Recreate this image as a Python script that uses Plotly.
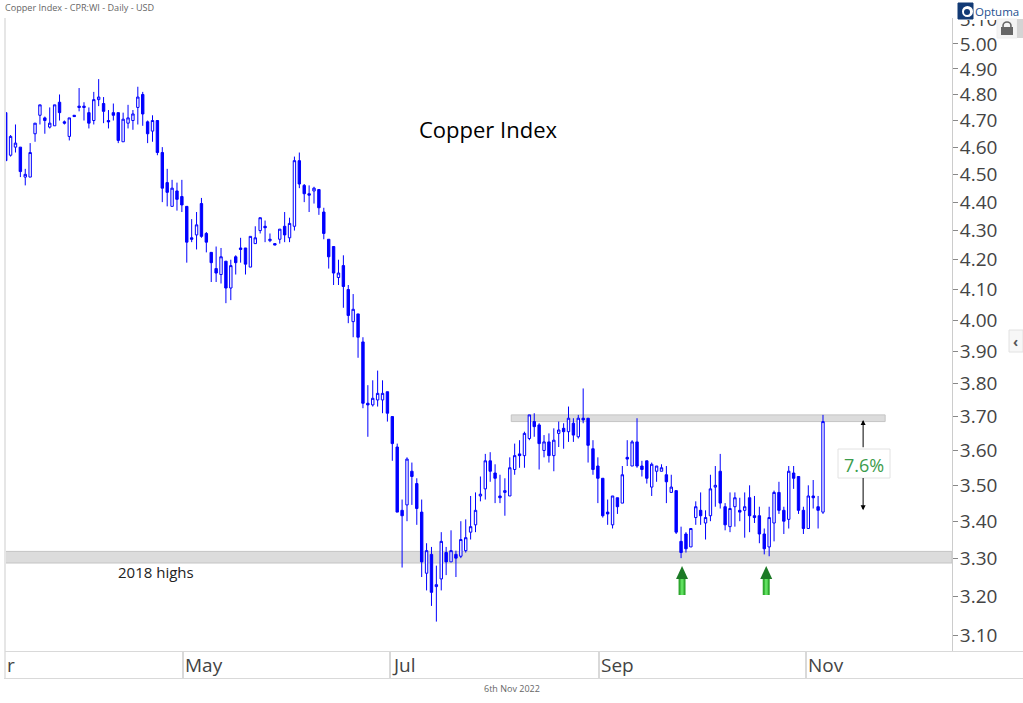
"""Copper Index daily candles, log price scale, Optuma-style chart."""

import math

import plotly.graph_objects as go

W, H = 1023, 703
PLOT_L, PLOT_R, PLOT_T, PLOT_B = 5, 952, 18, 651

BLUE = "#0000ff"
INK = "#444444"
EDGE = "#d9d9d9"
ZONE = "#dcdcdc"
ZONE_EDGE = "#c4c4c4"
GREEN = "#3c9c4c"

OPENS = [
    4.73, 4.57, 4.60, 4.60, 4.49, 4.49, 4.65, 4.72, 4.71, 4.675,
    4.68, 4.77, 4.695, 4.64, 4.72, 4.755, 4.755, 4.73, 4.70, 4.78,
    4.765, 4.70, 4.73, 4.73, 4.62, 4.69, 4.70, 4.75, 4.80, 4.695,
    4.66, 4.70, 4.58, 4.47, 4.385, 4.44, 4.42, 4.385, 4.275, 4.285,
    4.395, 4.29, 4.225, 4.17, 4.15, 4.195, 4.105, 4.21, 4.24, 4.24,
    4.175, 4.255, 4.30, 4.315, 4.265, 4.255, 4.27, 4.315, 4.275, 4.315,
    4.55, 4.46, 4.43, 4.44, 4.445, 4.365, 4.27, 4.245, 4.14, 4.18,
    4.10, 3.995, 4.02, 3.93, 3.74, 3.735, 3.75, 3.75, 3.775, 3.70,
    3.61, 3.43, 3.445, 3.54, 3.505, 3.425, 3.26, 3.31, 3.225, 3.245,
    3.315, 3.29, 3.31, 3.305, 3.32, 3.37, 3.39, 3.47, 3.49, 3.57,
    3.535, 3.47, 3.48, 3.47, 3.545, 3.59, 3.585, 3.635, 3.685, 3.675,
    3.60, 3.625, 3.585, 3.65, 3.665, 3.655, 3.68, 3.64, 3.695, 3.695,
    3.605, 3.555, 3.52, 3.425, 3.39, 3.465, 3.45, 3.58, 3.555, 3.625,
    3.555, 3.57, 3.495, 3.54, 3.54, 3.53, 3.48, 3.485, 3.345, 3.365,
    3.33, 3.41, 3.43, 3.395, 3.415, 3.495, 3.54, 3.44, 3.385, 3.44,
    3.43, 3.43, 3.465, 3.415, 3.415, 3.365, 3.33, 3.395, 3.48, 3.43,
    3.405, 3.535, 3.525, 3.43, 3.38, 3.47, 3.44, 3.425,
]
HIGHS = [
    4.73, 4.645, 4.685, 4.60, 4.52, 4.615, 4.69, 4.76, 4.715, 4.75,
    4.76, 4.80, 4.70, 4.71, 4.72, 4.825, 4.77, 4.75, 4.81, 4.86,
    4.79, 4.74, 4.765, 4.73, 4.73, 4.76, 4.74, 4.83, 4.81, 4.70,
    4.72, 4.70, 4.60, 4.52, 4.48, 4.47, 4.48, 4.385, 4.34, 4.365,
    4.415, 4.295, 4.225, 4.245, 4.24, 4.195, 4.20, 4.215, 4.275, 4.24,
    4.28, 4.315, 4.345, 4.335, 4.29, 4.255, 4.305, 4.365, 4.345, 4.565,
    4.58, 4.465, 4.46, 4.455, 4.445, 4.38, 4.27, 4.245, 4.20, 4.215,
    4.115, 4.085, 4.02, 3.945, 3.795, 3.81, 3.84, 3.81, 3.775, 3.70,
    3.62, 3.46, 3.58, 3.565, 3.52, 3.46, 3.34, 3.33, 3.28, 3.37,
    3.33, 3.375, 3.32, 3.40, 3.405, 3.47, 3.48, 3.525, 3.59, 3.595,
    3.56, 3.53, 3.52, 3.58, 3.62, 3.63, 3.655, 3.705, 3.71, 3.68,
    3.645, 3.65, 3.665, 3.685, 3.68, 3.73, 3.695, 3.705, 3.785, 3.695,
    3.63, 3.58, 3.52, 3.46, 3.47, 3.465, 3.555, 3.63, 3.63, 3.695,
    3.57, 3.57, 3.565, 3.555, 3.56, 3.555, 3.53, 3.485, 3.385, 3.37,
    3.38, 3.455, 3.48, 3.43, 3.53, 3.555, 3.59, 3.45, 3.48, 3.48,
    3.465, 3.48, 3.50, 3.47, 3.44, 3.38, 3.44, 3.485, 3.51, 3.44,
    3.555, 3.555, 3.525, 3.44, 3.50, 3.515, 3.47, 3.705,
]
LOWS = [
    4.55, 4.565, 4.58, 4.49, 4.46, 4.49, 4.62, 4.685, 4.65, 4.67,
    4.68, 4.70, 4.685, 4.625, 4.715, 4.735, 4.70, 4.67, 4.685, 4.755,
    4.69, 4.67, 4.70, 4.615, 4.62, 4.67, 4.665, 4.685, 4.68, 4.615,
    4.62, 4.57, 4.40, 4.385, 4.385, 4.37, 4.365, 4.19, 4.26, 4.235,
    4.275, 4.225, 4.125, 4.125, 4.12, 4.055, 4.065, 4.15, 4.19, 4.15,
    4.175, 4.255, 4.29, 4.26, 4.26, 4.25, 4.255, 4.26, 4.26, 4.30,
    4.45, 4.40, 4.365, 4.395, 4.355, 4.27, 4.17, 4.115, 4.115, 4.04,
    3.99, 3.945, 3.88, 3.725, 3.64, 3.73, 3.73, 3.71, 3.685, 3.57,
    3.425, 3.275, 3.40, 3.445, 3.39, 3.25, 3.215, 3.175, 3.135, 3.215,
    3.255, 3.29, 3.25, 3.30, 3.315, 3.35, 3.37, 3.455, 3.46, 3.51,
    3.45, 3.45, 3.415, 3.47, 3.53, 3.55, 3.55, 3.63, 3.64, 3.545,
    3.58, 3.565, 3.54, 3.61, 3.605, 3.625, 3.625, 3.635, 3.68, 3.565,
    3.53, 3.45, 3.41, 3.39, 3.38, 3.42, 3.45, 3.555, 3.555, 3.55,
    3.525, 3.505, 3.47, 3.51, 3.54, 3.45, 3.48, 3.365, 3.30, 3.315,
    3.33, 3.39, 3.39, 3.35, 3.40, 3.44, 3.435, 3.375, 3.37, 3.385,
    3.40, 3.355, 3.37, 3.395, 3.34, 3.31, 3.305, 3.345, 3.42, 3.365,
    3.38, 3.49, 3.42, 3.365, 3.38, 3.435, 3.38, 3.42,
]
CLOSES = [
    4.55, 4.64, 4.615, 4.51, 4.50, 4.58, 4.69, 4.76, 4.70, 4.69,
    4.76, 4.73, 4.69, 4.71, 4.715, 4.75, 4.75, 4.69, 4.78, 4.79,
    4.735, 4.695, 4.72, 4.625, 4.705, 4.71, 4.725, 4.79, 4.725, 4.65,
    4.70, 4.58, 4.45, 4.435, 4.45, 4.41, 4.39, 4.26, 4.27, 4.32,
    4.28, 4.26, 4.19, 4.155, 4.21, 4.105, 4.18, 4.19, 4.235, 4.185,
    4.28, 4.275, 4.345, 4.31, 4.27, 4.25, 4.305, 4.285, 4.325, 4.55,
    4.465, 4.43, 4.425, 4.45, 4.38, 4.29, 4.21, 4.155, 4.155, 4.11,
    4.015, 4.035, 3.945, 3.74, 3.735, 3.755, 3.77, 3.77, 3.71, 3.62,
    3.425, 3.415, 3.575, 3.525, 3.435, 3.29, 3.32, 3.21, 3.23, 3.345,
    3.29, 3.32, 3.30, 3.35, 3.355, 3.385, 3.43, 3.475, 3.57, 3.54,
    3.52, 3.465, 3.485, 3.55, 3.585, 3.585, 3.65, 3.705, 3.67, 3.62,
    3.625, 3.585, 3.63, 3.66, 3.655, 3.695, 3.645, 3.695, 3.69, 3.615,
    3.545, 3.52, 3.415, 3.42, 3.47, 3.44, 3.53, 3.575, 3.625, 3.555,
    3.545, 3.52, 3.56, 3.555, 3.55, 3.51, 3.495, 3.37, 3.315, 3.325,
    3.38, 3.44, 3.415, 3.41, 3.49, 3.50, 3.45, 3.39, 3.435, 3.465,
    3.425, 3.44, 3.415, 3.41, 3.365, 3.325, 3.41, 3.48, 3.43, 3.40,
    3.54, 3.52, 3.43, 3.38, 3.47, 3.465, 3.43, 3.685,
]
BARS = list(range(len(CLOSES)))

PRICE_TICKS = [3.1, 3.2, 3.3, 3.4, 3.5, 3.6, 3.7, 3.8, 3.9, 4.0,
               4.1, 4.2, 4.3, 4.4, 4.5, 4.6, 4.7, 4.8, 4.9, 5.0, 5.1]
MONTH_LABELS = ["r", "May", "Jul", "Sep", "Nov"]
MONTH_BARS = [-0.1, 36.2, 78.6, 121.3, 163.5]

RANGE_BARS = [-0.14, 193.36]
RANGE_LOG = [0.48592, 0.70808]

UPPER_ZONE = (3.685, 3.705)
UPPER_ZONE_BARS = (103.3, 179.7)
LOWER_ZONE = (3.287, 3.318)
ARROW_BARS = [138.2, 155.4]
MOVE_BAR = 175.2
MOVE_ENDS = [(3.69, 3.605), (3.43, 3.525)]  # (tip, tail) prices


def px(x):
    return (x - PLOT_L) / (PLOT_R - PLOT_L)


def py(y):
    return (PLOT_B - y) / (PLOT_B - PLOT_T)


def page_rect(x0, y0, x1, y1, fill, line=None, width=1):
    return dict(
        type="rect", xref="paper", yref="paper", layer="above",
        x0=px(x0), x1=px(x1), y0=py(y0), y1=py(y1),
        fillcolor=fill, line=dict(color=line or fill, width=width if line else 0),
    )


def page_path(points, fill):
    path = "M " + " L ".join(f"{px(x):.5f},{py(y):.5f}" for x, y in points) + " Z"
    return dict(type="path", xref="paper", yref="paper", layer="above",
                path=path, fillcolor=fill, line=dict(width=0))


def page_text(x, y, text, size, color, anchor="left", family="Open Sans"):
    return dict(
        xref="paper", yref="paper", x=px(x), y=py(y), text=text, showarrow=False,
        xanchor=anchor, yanchor="middle", align=anchor,
        font=dict(family=family, size=size, color=color),
        borderpad=0,
    )


def build_figure():
    fig = go.Figure(
        go.Candlestick(
            x=BARS, open=OPENS, high=HIGHS, low=LOWS, close=CLOSES,
            increasing=dict(line=dict(color=BLUE, width=1), fillcolor="#ffffff"),
            decreasing=dict(line=dict(color=BLUE, width=1), fillcolor=BLUE),
            whiskerwidth=0,
            showlegend=False,
        )
    )

    shapes = [
        # support and resistance zones sit behind the candles
        dict(type="rect", xref="paper", yref="y", layer="below",
             x0=0, x1=1, y0=LOWER_ZONE[0], y1=LOWER_ZONE[1],
             fillcolor=ZONE, line=dict(color=ZONE_EDGE, width=1)),
        dict(type="rect", xref="x", yref="y", layer="below",
             x0=UPPER_ZONE_BARS[0], x1=UPPER_ZONE_BARS[1],
             y0=UPPER_ZONE[0], y1=UPPER_ZONE[1],
             fillcolor=ZONE, line=dict(color=ZONE_EDGE, width=1)),
        # frame
        page_rect(4, PLOT_T, 6, 678, "#e6e6e6"),
        page_rect(5, 651, W, 652, EDGE),
        page_rect(5, 678, W, 679, EDGE),
        # hides the top half of the 5.10 label, as the header does
        page_rect(953, 0, W, 20, "#ffffff"),
        # logo
        dict(type="rect", xref="paper", yref="paper", layer="above",
             x0=px(958), x1=px(973), y0=py(19), y1=py(3),
             fillcolor="#123a75", line=dict(color="#123a75", width=1)),
        dict(type="circle", xref="paper", yref="paper", layer="above",
             x0=px(962), x1=px(973), y0=py(17), y1=py(6),
             fillcolor="#ffffff", line=dict(width=0)),
        dict(type="circle", xref="paper", yref="paper", layer="above",
             x0=px(964), x1=px(970), y0=py(15), y1=py(9),
             fillcolor="#123a75", line=dict(width=0)),
        # lock button
        page_rect(997, 19, 1017, 38, "#f4f4f4", "#eeeeee"),
        page_rect(1017, 19, 1023, 38, "#d4d4d4"),
        dict(type="circle", xref="paper", yref="paper", layer="above",
             x0=px(1003), x1=px(1011), y0=py(30), y1=py(22),
             fillcolor="rgba(0,0,0,0)", line=dict(color="#666666", width=1.6)),
        page_rect(1001, 27, 1013, 35, "#666666"),
        # collapse tab
        page_rect(1009, 330, 1023, 352, "#f7f7f7", "#e2e2e2"),
        # move label box
        page_rect(838, 449, 890, 478, "#ffffff", "#e2e2e2"),
    ]
    for bar in ARROW_BARS:
        cx = (bar - RANGE_BARS[0]) / (RANGE_BARS[1] - RANGE_BARS[0]) * (PLOT_R - PLOT_L) + PLOT_L
        shapes += [
            page_path([(cx - 6, 579), (cx, 566), (cx + 6, 579)], "#1c7a26"),
            page_rect(cx - 3.5, 579, cx + 3.5, 595, "#2ea82e"),
            page_rect(cx - 1.5, 579, cx + 1.5, 595, "#5fe05f"),
        ]

    notes = [
        page_text(4, 7, "Copper Index - CPR:WI - Daily - USD", 9.1, "#666666"),
        page_text(488, 129, "Copper Index", 22, "#000000", "center"),
        page_text(156, 572, "2018 highs", 15, "#222222", "center"),
        page_text(512, 688, "6th Nov 2022", 9, "#666666", "center"),
        page_text(864, 465, "7.6%", 18, GREEN, "center"),
        page_text(974, 11, "Optuma", 11.5, "#24508f"),
        page_text(1012, 341, "<b>‹</b>", 14, "#555555"),
    ]
    for label, bar in zip(MONTH_LABELS, MONTH_BARS):
        notes.append(dict(
            x=bar, xref="x", y=py(665), yref="paper", text=label, showarrow=False,
            xanchor="left", yanchor="middle", xshift=0,
            font=dict(family="Open Sans", size=19, color=INK),
        ))
    for tip, tail in MOVE_ENDS:
        notes.append(dict(
            x=MOVE_BAR, y=math.log10(tip), ax=MOVE_BAR, ay=math.log10(tail),
            xref="x", yref="y", axref="x", ayref="y",
            showarrow=True, arrowhead=2, arrowsize=1, arrowwidth=1, arrowcolor="#000000", text="",
        ))

    fig.update_xaxes(
        type="linear", range=RANGE_BARS, rangeslider_visible=False,
        tickmode="array", tickvals=MONTH_BARS, ticktext=[""] * len(MONTH_BARS),
        ticks="outside", ticklen=27, tickcolor=EDGE, tickwidth=2,
        showgrid=False, zeroline=False, showline=False,
    )
    fig.update_yaxes(
        type="log", side="right", range=RANGE_LOG,
        tickmode="array", tickvals=PRICE_TICKS,
        ticktext=[f"{p:.2f}" for p in PRICE_TICKS],
        ticks="outside", ticklen=5, tickcolor="#888888", tickwidth=1,
        tickfont=dict(family="Open Sans", size=19, color=INK),
        ticklabelstandoff=-2,
        showgrid=False, zeroline=False, showline=True, linecolor="#cccccc", linewidth=1,
    )
    fig.update_layout(
        width=W, height=H,
        margin=dict(l=PLOT_L, r=W - PLOT_R, t=PLOT_T, b=H - PLOT_B),
        paper_bgcolor="#ffffff", plot_bgcolor="#ffffff",
        shapes=shapes, annotations=notes,
        hovermode=False,
        font=dict(family="Open Sans"),
    )
    return fig


fig = build_figure()
fig.write_html(
    "out.html",
    config={"displayModeBar": False},
    post_script="document.body.style.margin='0';document.body.style.overflow='hidden';",
)
